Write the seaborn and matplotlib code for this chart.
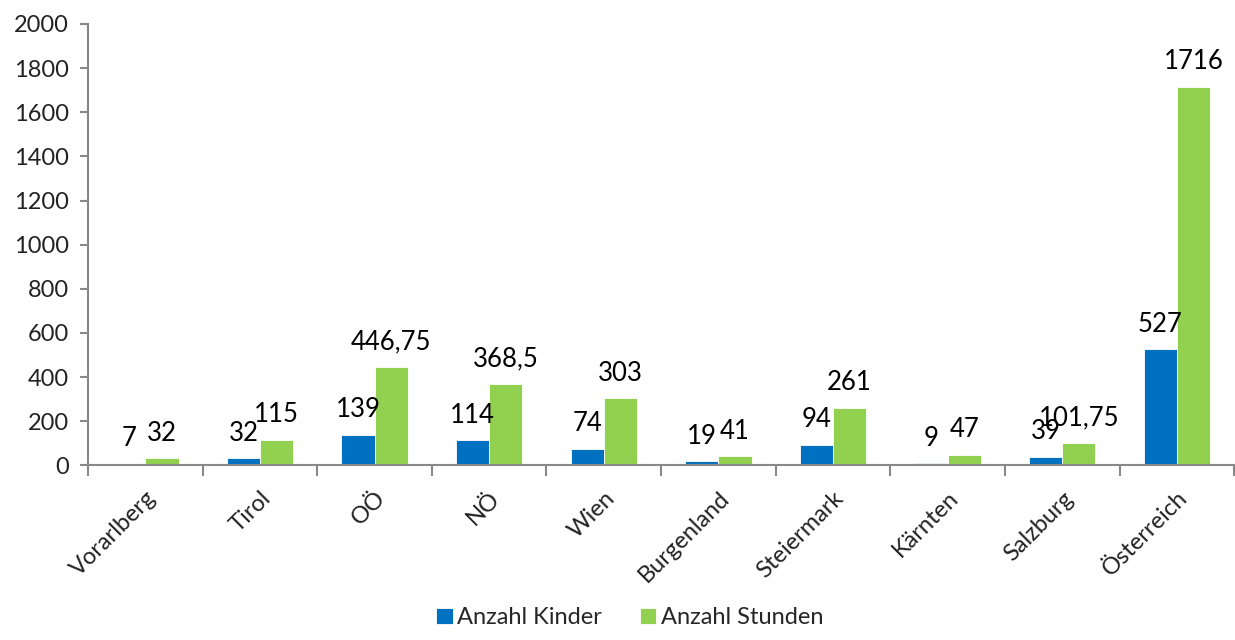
"""Anzahl Kinder / Anzahl Stunden nach Bundesland - grouped bar chart."""

import matplotlib
matplotlib.use("Agg")

import numpy as np
import pandas as pd
import matplotlib.pyplot as plt
import seaborn as sns

# data
regions = ["Vorarlberg", "Tirol", "OÖ", "NÖ", "Wien", "Burgenland",
           "Steiermark", "Kärnten", "Salzburg", "Österreich"]
kinder = [7, 32, 139, 114, 74, 19, 94, 9, 39, 527]
stunden = [32, 115, 446.75, 368.5, 303, 41, 261, 47, 101.75, 1716]
series = ["Anzahl Kinder", "Anzahl Stunden"]
y_ticks = list(range(0, 2001, 200))

colors = ["#0070C0", "#92D050"]
axis_grey = "#888888"

df = pd.DataFrame({
    "Region": regions * 2,
    "Serie": [series[0]] * len(regions) + [series[1]] * len(regions),
    "Wert": kinder + stunden,
})

sns.set_theme(style="white")
plt.rcParams["font.family"] = ["Lato", "DejaVu Sans"]

fig = plt.figure(figsize=(12.35, 6.4), dpi=100)
ax = fig.add_axes([0.0713, 0.273, 0.928, 0.6895])

sns.barplot(data=df, x="Region", y="Wert", hue="Serie", order=regions,
            hue_order=series, palette=colors, width=0.58, saturation=1,
            edgecolor="white", linewidth=0.6, ax=ax, legend=True)


def fmt(v):
    # German decimal comma
    return f"{v:g}".replace(".", ",")


for cont, vals in zip(ax.containers, [kinder, stunden]):
    ax.bar_label(cont, labels=[fmt(v) for v in vals], padding=9,
                 fontsize=18.5, color="black")

ax.set_ylim(0, 2000)
ax.set_yticks(y_ticks)
ax.set_yticklabels([str(t) for t in y_ticks], fontsize=17, color="#222222")
ax.set_xlim(-0.5, len(regions) - 0.5)

# tick marks between the categories, labels centred under them
ax.set_xticks(np.arange(-0.5, len(regions), 1.0))
ax.set_xticklabels([])
ax.set_xticks(np.arange(len(regions)), minor=True)
ax.set_xticklabels(regions, minor=True, rotation=45, ha="right",
                   rotation_mode="anchor", fontsize=17, color="#222222")
ax.tick_params(axis="x", which="major", direction="out", length=8,
               width=1.5, color=axis_grey, bottom=True)
ax.tick_params(axis="x", which="minor", length=0, pad=16)
ax.tick_params(axis="y", direction="out", length=6, width=1.5,
               color=axis_grey, left=True, pad=8)

ax.set_xlabel("")
ax.set_ylabel("")
for side in ["top", "right"]:
    ax.spines[side].set_visible(False)
for side in ["left", "bottom"]:
    ax.spines[side].set_color(axis_grey)
    ax.spines[side].set_linewidth(1.5)

handles, labels = ax.get_legend_handles_labels()
ax.get_legend().remove()
fig.legend(handles, labels, loc="lower center", bbox_to_anchor=(0.51, -0.015),
           ncol=2, frameon=False, fontsize=17, handlelength=0.7,
           handleheight=0.7, handletextpad=0.2, columnspacing=1.6)

fig.savefig("out.png", dpi=100)
